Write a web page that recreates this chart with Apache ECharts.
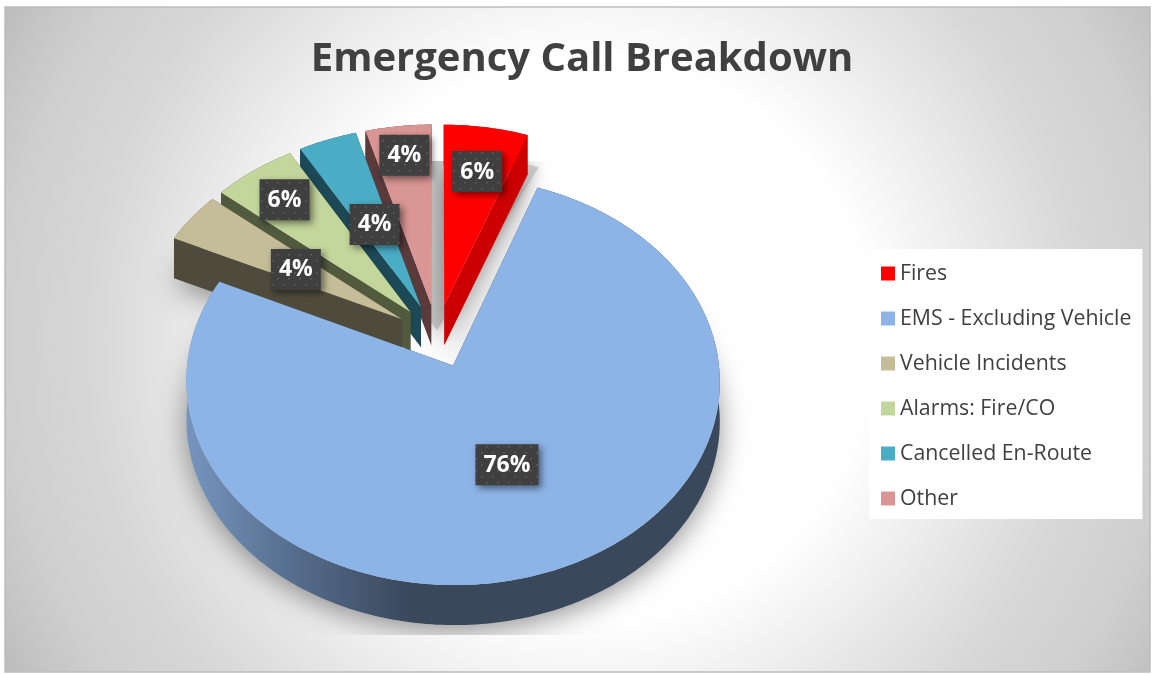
<!DOCTYPE html>
<html>
<head>
<meta charset="utf-8">
<style>html,body{margin:0;padding:0;background:#fff}#c{width:1153px;height:675px}</style>
<script src="https://cdn.jsdelivr.net/npm/echarts@6/dist/echarts.min.js"></script>
</head>
<body>
<div id="c"></div>
<script>
// ---- data (labels round to whole percent)
var categories = ['Fires', 'EMS - Excluding Vehicle', 'Vehicle Incidents', 'Alarms: Fire/CO', 'Cancelled En-Route', 'Other'];
var values = [5.6, 76.4, 4.1, 5.6, 3.9, 4.4];
var chartTitle = 'Emergency Call Breakdown';

// ---- styles
var topColors = ['#ff0000', '#8db4e7', '#c4bd97', '#c3d69b', '#4bacc6', '#d99694'];
var wallColors = ['#cc0000', '#3a485c', '#4f4b3c', '#525a3e', '#1d4855', '#5a3a3b'];
var labelRadius = [0.75, 0.50, 0.50, 0.80, 0.49, 0.84];
var labelShift = {x: 1, y: 2};
var drawOrder = [0, 5, 4, 3, 2, 1];

// ---- projection of the tilted, exploded pie
var view = {cx: 437, cy: 336, R: 263, explode: 41.7, k: 0.755, p: 0.075, depth: 40};
function project(X, Y) {
  var w = 1 + view.p * Y / view.R;
  return [view.cx + X / w, view.cy - view.k * Y / w];
}
var total = values.reduce(function (a, b) { return a + b; }, 0);
var spans = [], acc = 0;
values.forEach(function (v) {
  var a0 = acc / total * 360; acc += v;
  spans.push([a0, acc / total * 360]);
});
function rad(d) { return d * Math.PI / 180; }
function wedge(i) {
  var s = spans[i], mid = rad((s[0] + s[1]) / 2);
  var ox = view.explode * Math.sin(mid), oy = view.explode * Math.cos(mid);
  var arc = [];
  var n = Math.max(2, Math.ceil(s[1] - s[0]));
  for (var j = 0; j <= n; j++) {
    var t = rad(s[0] + (s[1] - s[0]) * j / n);
    arc.push(project(ox + view.R * Math.sin(t), oy + view.R * Math.cos(t)));
  }
  return {apex: project(ox, oy), arc: arc, ox: ox, oy: oy, mid: mid};
}
function down(p, d) { return [p[0], p[1] + d]; }
function poly(points, fill, extra) {
  var el = {type: 'polygon', shape: {points: points}, style: {fill: fill}, silent: true};
  if (extra) for (var k in extra) el.style[k] = extra[k];
  return el;
}

// dotted fill of the label boxes
var dot = document.createElement('canvas');
dot.width = 11; dot.height = 12;
(function () {
  var g = dot.getContext('2d');
  g.fillStyle = '#3f3f3f'; g.fillRect(0, 0, 11, 12);
  g.fillStyle = '#5a5a5a';
  g.fillRect(2, 2, 2, 1.5); g.fillRect(8, 8, 2, 1.5);
})();

function renderShadow() {
  // grey backing seen through the gaps behind the top slices
  var sector = [project(0, 8)], j;
  for (j = -32; j <= 25; j += 2) {
    sector.push(project(6 + 252 * Math.sin(rad(j)), 8 + 252 * Math.cos(rad(j))));
  }
  var children = [poly(sector, '#cbcbcb', {shadowBlur: 12, shadowColor: 'rgba(0,0,0,0.2)'})];
  // soft shadows of the bottom faces
  [1, 2, 0].forEach(function (i) {
    var w = wedge(i);
    var pts = [down(w.apex, view.depth)].concat(w.arc.map(function (p) { return down(p, view.depth); }));
    children.push(poly(pts, '#c9c9c9', {
      shadowBlur: 28, shadowOffsetY: 6, shadowColor: 'rgba(0,0,0,0.42)'
    }));
  });
  return {
    type: 'group',
    clipPath: {type: 'rect', shape: {x: 0, y: 161, width: 1153, height: 474}},
    children: children
  };
}

function renderSlice(i) {
  var w = wedge(i), d = view.depth;
  var wall = wallColors[i];
  if (i === 1) {
    wall = new echarts.graphic.LinearGradient(190, 0, 410, 0, [
      {offset: 0, color: '#7594bd'}, {offset: 0.5, color: '#546b8a'}, {offset: 1, color: '#3a485c'}
    ], true);
  }
  var first = w.arc[0], last = w.arc[w.arc.length - 1];
  var outer = w.arc.concat(w.arc.slice().reverse().map(function (p) { return down(p, d); }));
  return {
    type: 'group',
    children: [
      poly(outer, wall),
      poly([w.apex, first, down(first, d), down(w.apex, d)], wallColors[i]),
      poly([w.apex, last, down(last, d), down(w.apex, d)], wallColors[i]),
      poly([w.apex].concat(w.arc), topColors[i])
    ]
  };
}

function renderLabels() {
  var children = [];
  drawOrder.forEach(function (i) {
    var w = wedge(i);
    var r = view.R * labelRadius[i];
    var p = project(w.ox + r * Math.sin(w.mid), w.oy + r * Math.cos(w.mid));
    p = [p[0] + labelShift.x, p[1] + labelShift.y];
    var txt = Math.round(values[i]) + '%';
    var bw = txt.length > 2 ? 63 : 50, bh = 41;
    children.push({
      type: 'rect',
      shape: {x: p[0] - bw / 2, y: p[1] - bh / 2, width: bw, height: bh},
      style: {fill: {image: dot, repeat: 'repeat'}, shadowBlur: 7, shadowOffsetX: 3, shadowOffsetY: 3, shadowColor: 'rgba(0,0,0,0.5)'},
      silent: true
    });
    children.push({
      type: 'text',
      x: p[0], y: p[1] + 0.5,
      style: {text: txt, fill: '#fff', font: 'bold 23px "Open Sans"', align: 'center', verticalAlign: 'middle'},
      silent: true
    });
  });
  return {type: 'group', children: children};
}

var series = [{
  type: 'custom', name: '_shadow', coordinateSystem: 'none', data: [0], silent: true, z: 2,
  renderItem: renderShadow
}];
drawOrder.forEach(function (i, n) {
  series.push({
    type: 'custom', name: categories[i], coordinateSystem: 'none', data: [values[i]], silent: true, z: 3 + n,
    itemStyle: {color: topColors[i]},
    renderItem: function () { return renderSlice(i); }
  });
});
series.push({
  type: 'custom', name: '_labels', coordinateSystem: 'none', data: [0], silent: true, z: 20,
  renderItem: renderLabels
});

var chart = echarts.init(document.getElementById('c'), null, {renderer: 'canvas'});
chart.setOption({
  animation: false,
  backgroundColor: '#ffffff',
  title: {
    text: chartTitle, left: 577, top: 35, textAlign: 'center',
    textStyle: {fontFamily: 'Open Sans', fontWeight: 'bold', fontSize: 40, color: '#404040'}
  },
  graphic: [{
    type: 'rect', z: -1, silent: true,
    shape: {x: 5, y: 7, width: 1145, height: 665},
    style: {
      stroke: '#bdbdbd', lineWidth: 1.5,
      fill: new echarts.graphic.RadialGradient(0.51, 0.5, 1, [
        {offset: 0, color: '#ffffff'}, {offset: 0.42, color: '#ffffff'},
        {offset: 0.64, color: '#e4e4e4'}, {offset: 0.75, color: '#d7d7d7'},
        {offset: 0.88, color: '#cfcfcf'}, {offset: 0.96, color: '#c4c4c4'}, {offset: 1, color: '#bdbdbd'}
      ])
    }
  }],
  legend: {
    orient: 'vertical', left: 869, top: 249,
    data: categories, backgroundColor: '#ffffff',
    padding: [14, 11, 10, 12], itemWidth: 14, itemHeight: 14, itemGap: 24, icon: 'rect',
    selectedMode: false,
    textStyle: {fontFamily: 'Open Sans', fontSize: 21.3, color: '#404040', lineHeight: 21}
  },
  series: series
});
</script>
</body>
</html>
